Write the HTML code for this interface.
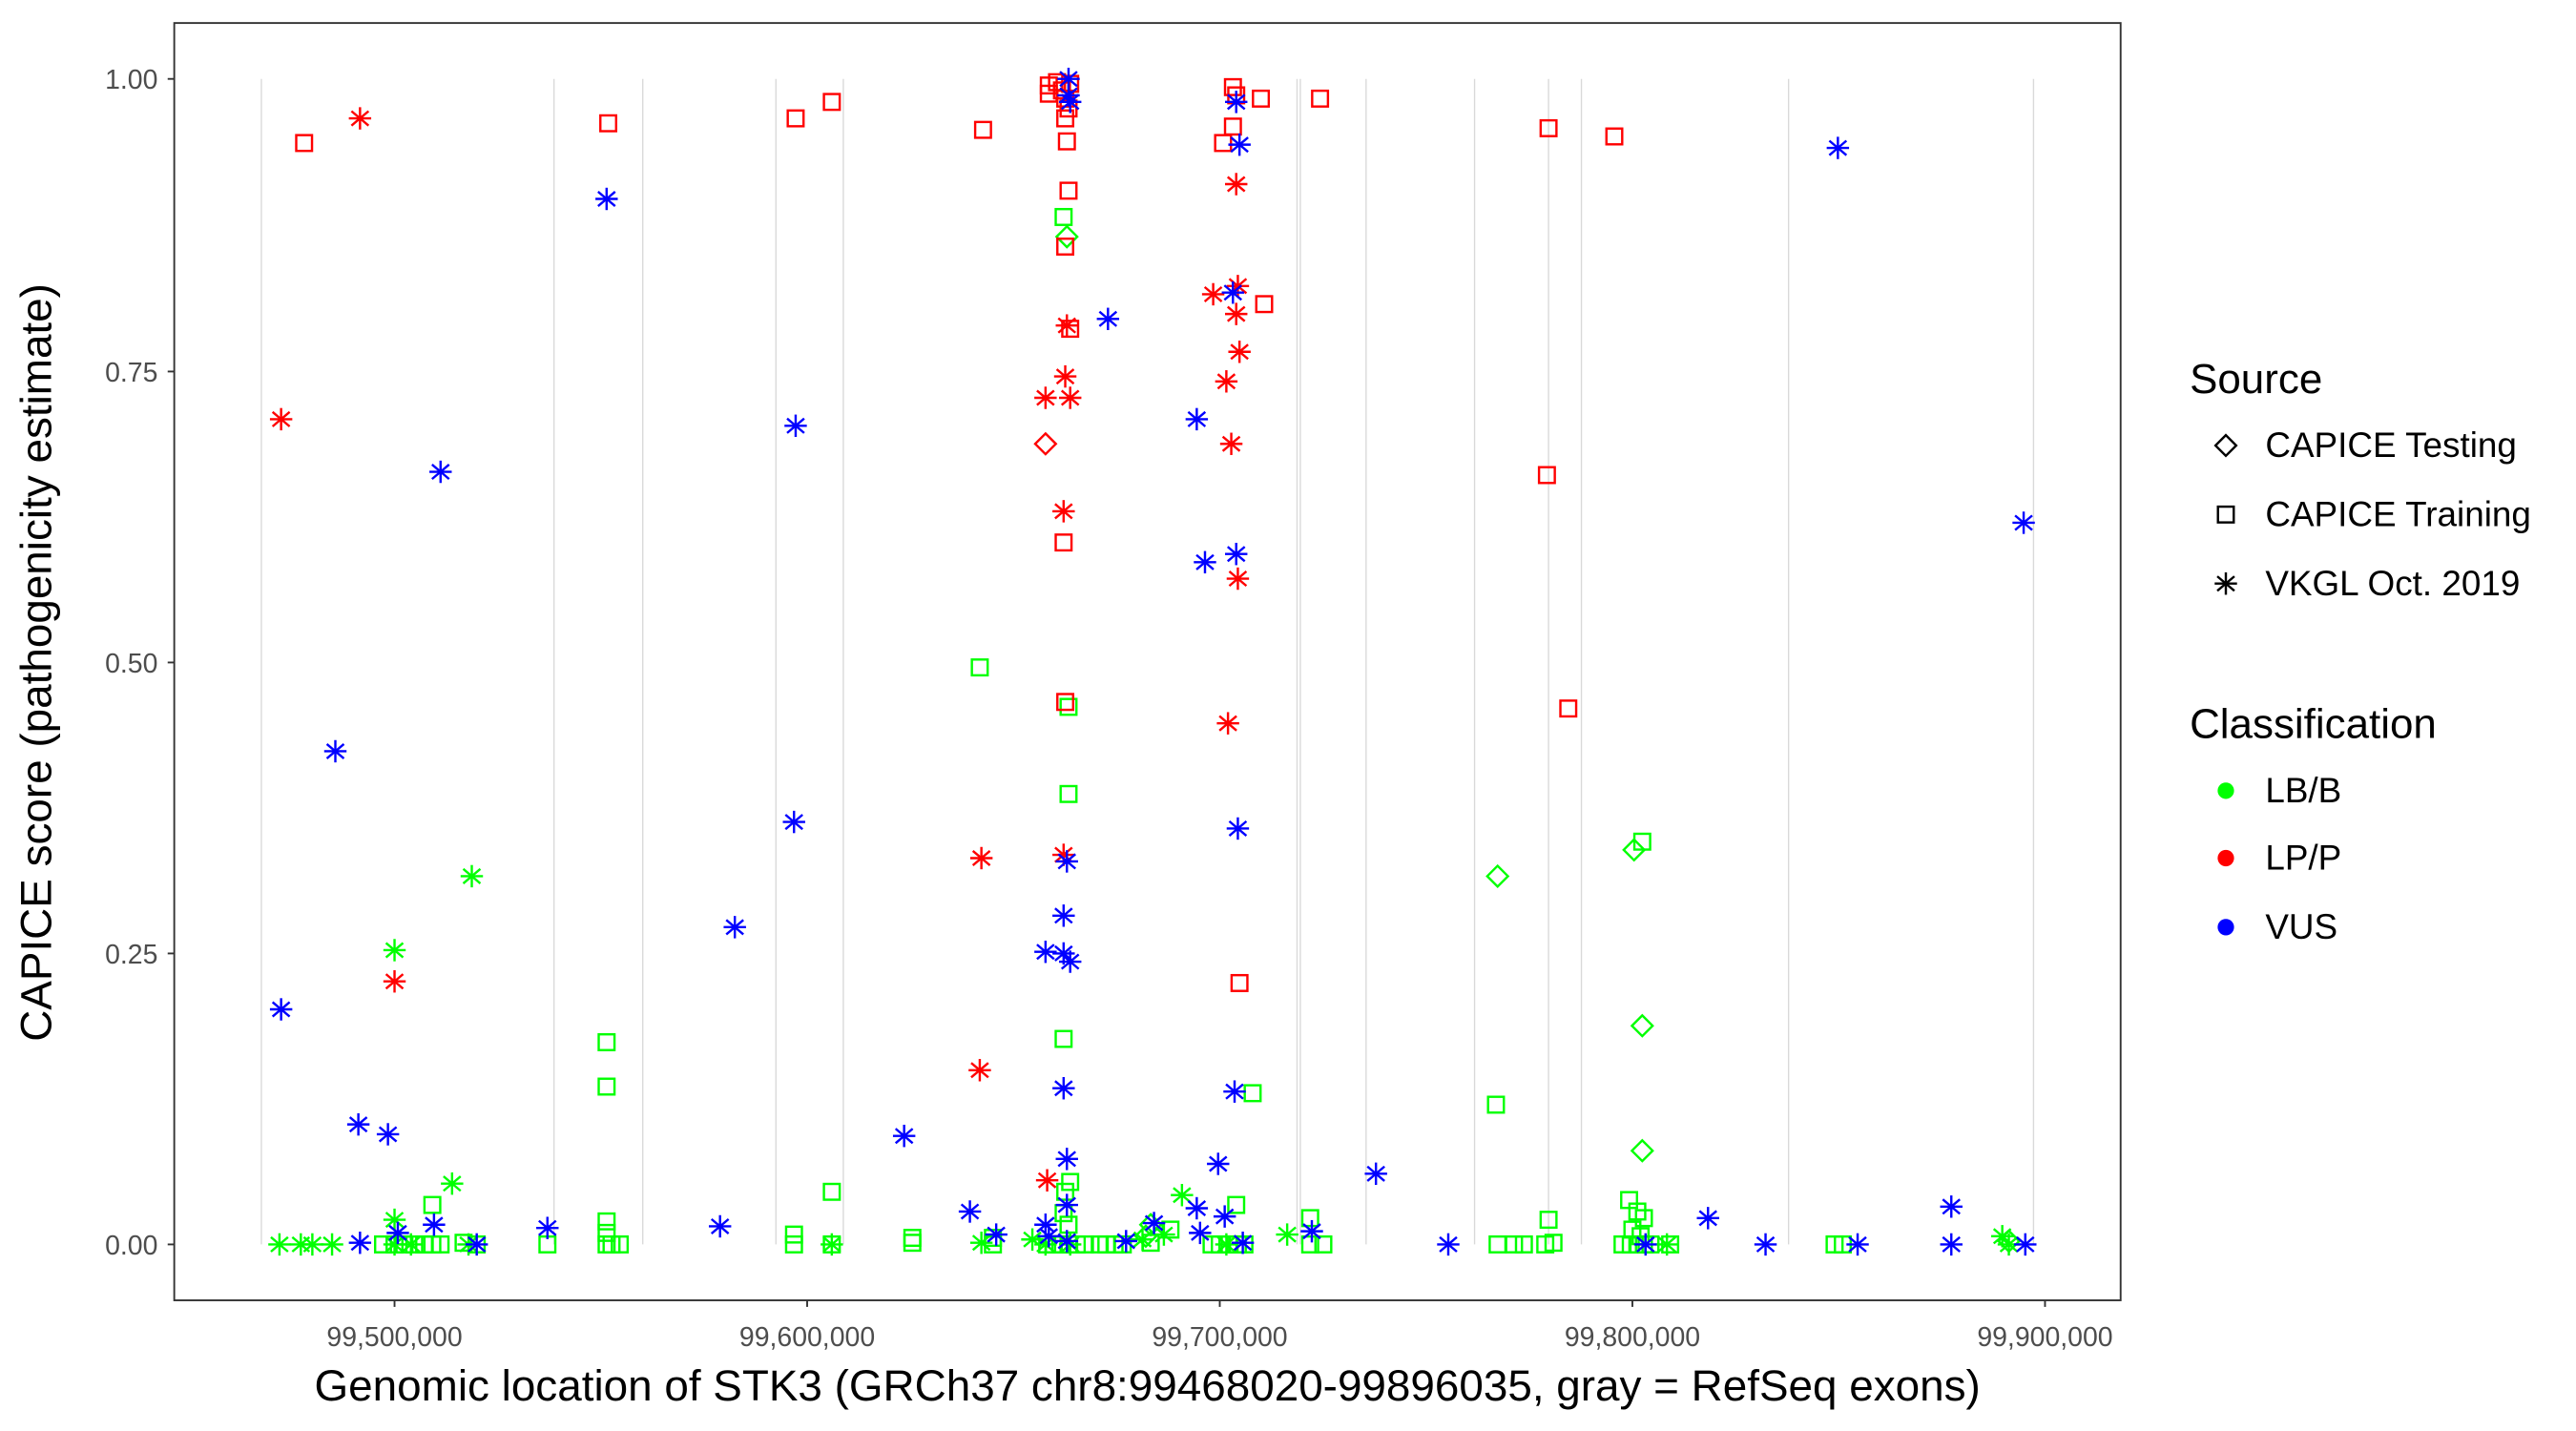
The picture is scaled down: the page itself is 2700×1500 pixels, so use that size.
<!DOCTYPE html>
<html><head><meta charset="utf-8"><style>
html,body{margin:0;padding:0;background:#fff;}
svg{display:block;}
text{font-family:"Liberation Sans",Arial,sans-serif;}
</style></head><body>
<svg width="2700" height="1500" viewBox="0 0 1567 870.5" preserveAspectRatio="none" xmlns="http://www.w3.org/2000/svg">
<defs>
<g id="sq"><rect x="-4.8" y="-4.8" width="9.6" height="9.6" fill="none" stroke-width="1.4"/></g>
<g id="di"><polygon points="0,-6.3 6.3,0 0,6.3 -6.3,0" fill="none" stroke-width="1.4"/></g>
<g id="as" stroke-width="1.4"><line x1="0" y1="-6.8" x2="0" y2="6.8"/><line x1="-6.8" y1="0" x2="6.8" y2="0"/><line x1="-5.2" y1="-4.4" x2="5.2" y2="4.4"/><line x1="-5.2" y1="4.4" x2="5.2" y2="-4.4"/></g>
</defs>
<rect x="0" y="0" width="1567" height="870.5" fill="#fff"/>
<g stroke="#d9d9d9" stroke-width="0.8">
<line x1="159" y1="48" x2="159" y2="757"/><line x1="337" y1="48" x2="337" y2="757"/><line x1="391" y1="48" x2="391" y2="757"/><line x1="472" y1="48" x2="472" y2="757"/><line x1="513" y1="48" x2="513" y2="757"/>
<line x1="789" y1="48" x2="789" y2="757"/><line x1="791" y1="48" x2="791" y2="757"/><line x1="831" y1="48" x2="831" y2="757"/><line x1="897" y1="48" x2="897" y2="757"/><line x1="942" y1="48" x2="942" y2="757"/><line x1="962" y1="48" x2="962" y2="757"/><line x1="1088" y1="48" x2="1088" y2="757"/><line x1="1237" y1="48" x2="1237" y2="757"/>
</g>
<g stroke="#00ff00">
<use href="#sq" x="596" y="406"/><use href="#sq" x="650" y="430"/><use href="#sq" x="650" y="483"/><use href="#sq" x="647" y="632"/><use href="#sq" x="369" y="634"/><use href="#sq" x="369" y="661"/><use href="#sq" x="762" y="665"/><use href="#sq" x="910" y="672"/><use href="#sq" x="506" y="725"/><use href="#sq" x="263" y="733"/><use href="#sq" x="369" y="743"/><use href="#sq" x="752" y="733"/><use href="#sq" x="797" y="741"/><use href="#sq" x="942" y="742"/><use href="#sq" x="991" y="730"/><use href="#sq" x="996" y="737"/><use href="#sq" x="1000" y="741"/><use href="#sq" x="999" y="512"/><use href="#sq" x="647" y="132"/>
<use href="#sq" x="647" y="738"/><use href="#sq" x="648" y="725"/><use href="#sq" x="651" y="719"/><use href="#sq" x="650" y="745"/><use href="#sq" x="369" y="750"/><use href="#sq" x="712" y="748"/><use href="#sq" x="993" y="748"/><use href="#sq" x="998" y="752"/><use href="#sq" x="604" y="753"/><use href="#sq" x="555" y="753"/><use href="#sq" x="483" y="751"/>
<use href="#sq" x="233" y="757"/><use href="#sq" x="240" y="757"/><use href="#sq" x="246" y="757"/><use href="#sq" x="252" y="757"/><use href="#sq" x="258" y="757"/><use href="#sq" x="263" y="757"/><use href="#sq" x="268" y="757"/><use href="#sq" x="282" y="756"/><use href="#sq" x="290" y="757"/><use href="#sq" x="333" y="757"/><use href="#sq" x="369" y="757"/><use href="#sq" x="372" y="757"/><use href="#sq" x="377" y="757"/><use href="#sq" x="483" y="757"/><use href="#sq" x="506" y="757"/><use href="#sq" x="555" y="756"/><use href="#sq" x="604" y="757"/><use href="#sq" x="637" y="757"/><use href="#sq" x="641" y="757"/><use href="#sq" x="645" y="757"/><use href="#sq" x="650" y="757"/><use href="#sq" x="655" y="757"/><use href="#sq" x="660" y="757"/><use href="#sq" x="669" y="757"/><use href="#sq" x="673" y="757"/><use href="#sq" x="678" y="757"/><use href="#sq" x="683" y="757"/><use href="#sq" x="700" y="756"/><use href="#sq" x="737" y="757"/><use href="#sq" x="742" y="757"/><use href="#sq" x="748" y="757"/><use href="#sq" x="753" y="757"/><use href="#sq" x="757" y="757"/><use href="#sq" x="797" y="757"/><use href="#sq" x="805" y="757"/><use href="#sq" x="911" y="757"/><use href="#sq" x="921" y="757"/><use href="#sq" x="927" y="757"/><use href="#sq" x="940" y="757"/><use href="#sq" x="945" y="756"/><use href="#sq" x="987" y="757"/><use href="#sq" x="992" y="757"/><use href="#sq" x="996" y="757"/><use href="#sq" x="1000" y="757"/><use href="#sq" x="1004" y="757"/><use href="#sq" x="1016" y="757"/><use href="#sq" x="1116" y="757"/><use href="#sq" x="1121" y="757"/>
<use href="#di" x="911" y="533"/><use href="#di" x="994" y="517"/><use href="#di" x="999" y="624"/><use href="#di" x="999" y="700"/><use href="#di" x="649" y="144"/><use href="#di" x="1222" y="755"/><use href="#di" x="697" y="752"/><use href="#di" x="700" y="745"/>
<use href="#as" x="240" y="578"/><use href="#as" x="287" y="533"/><use href="#as" x="275" y="720"/><use href="#as" x="719" y="727"/><use href="#as" x="783" y="751"/><use href="#as" x="240" y="742"/><use href="#as" x="1218" y="752"/><use href="#as" x="170" y="757"/><use href="#as" x="183" y="757"/><use href="#as" x="190" y="757"/><use href="#as" x="202" y="757"/><use href="#as" x="240" y="757"/><use href="#as" x="250" y="757"/><use href="#as" x="285" y="757"/><use href="#as" x="506" y="757"/><use href="#as" x="597" y="756"/><use href="#as" x="628" y="754"/><use href="#as" x="636" y="757"/><use href="#as" x="651" y="757"/><use href="#as" x="695" y="754"/><use href="#as" x="708" y="751"/><use href="#as" x="746" y="757"/><use href="#as" x="1014" y="757"/><use href="#as" x="1222" y="757"/>
</g>
<g stroke="#ff0000">
<use href="#sq" x="185" y="87"/><use href="#sq" x="370" y="75"/><use href="#sq" x="484" y="72"/><use href="#sq" x="506" y="62"/><use href="#sq" x="598" y="79"/>
<use href="#sq" x="638" y="52"/><use href="#sq" x="638" y="57"/><use href="#sq" x="643" y="50"/><use href="#sq" x="646" y="55"/><use href="#sq" x="648" y="60"/><use href="#sq" x="651" y="51"/><use href="#sq" x="650" y="66"/><use href="#sq" x="648" y="72"/><use href="#sq" x="649" y="86"/><use href="#sq" x="650" y="116"/><use href="#sq" x="648" y="150"/><use href="#sq" x="651" y="200"/><use href="#sq" x="647" y="330"/><use href="#sq" x="648" y="427"/>
<use href="#sq" x="750" y="53"/><use href="#sq" x="752" y="58"/><use href="#sq" x="750" y="77"/><use href="#sq" x="744" y="87"/><use href="#sq" x="767" y="60"/><use href="#sq" x="769" y="185"/><use href="#sq" x="803" y="60"/><use href="#sq" x="942" y="78"/><use href="#sq" x="982" y="83"/><use href="#sq" x="941" y="289"/><use href="#sq" x="954" y="431"/><use href="#sq" x="754" y="598"/>
<use href="#di" x="636" y="270"/>
<use href="#as" x="219" y="72"/><use href="#as" x="171" y="255"/><use href="#as" x="240" y="597"/><use href="#as" x="597" y="522"/><use href="#as" x="596" y="651"/><use href="#as" x="636" y="242"/><use href="#as" x="649" y="198"/><use href="#as" x="648" y="229"/><use href="#as" x="651" y="242"/><use href="#as" x="647" y="311"/><use href="#as" x="647" y="520"/><use href="#as" x="637" y="718"/><use href="#as" x="738" y="179"/><use href="#as" x="753" y="174"/><use href="#as" x="752" y="191"/><use href="#as" x="746" y="232"/><use href="#as" x="754" y="214"/><use href="#as" x="749" y="270"/><use href="#as" x="752" y="112"/><use href="#as" x="753" y="352"/><use href="#as" x="747" y="440"/>
</g>
<g stroke="#0000ff">
<use href="#as" x="1118" y="90"/><use href="#as" x="1231" y="318"/><use href="#as" x="268" y="287"/><use href="#as" x="484" y="259"/><use href="#as" x="204" y="457"/><use href="#as" x="483" y="500"/><use href="#as" x="447" y="564"/><use href="#as" x="171" y="614"/><use href="#as" x="218" y="684"/><use href="#as" x="236" y="690"/><use href="#as" x="550" y="691"/><use href="#as" x="369" y="121"/>
<use href="#as" x="650" y="48"/><use href="#as" x="650" y="58"/><use href="#as" x="651" y="62"/><use href="#as" x="752" y="62"/><use href="#as" x="754" y="88"/><use href="#as" x="674" y="194"/><use href="#as" x="750" y="178"/><use href="#as" x="728" y="255"/><use href="#as" x="733" y="342"/><use href="#as" x="752" y="337"/><use href="#as" x="753" y="504"/><use href="#as" x="649" y="524"/><use href="#as" x="647" y="557"/><use href="#as" x="636" y="579"/><use href="#as" x="647" y="580"/><use href="#as" x="651" y="585"/><use href="#as" x="647" y="662"/><use href="#as" x="751" y="664"/><use href="#as" x="649" y="705"/><use href="#as" x="741" y="708"/><use href="#as" x="837" y="714"/><use href="#as" x="590" y="737"/><use href="#as" x="636" y="745"/><use href="#as" x="649" y="733"/><use href="#as" x="728" y="735"/><use href="#as" x="745" y="740"/><use href="#as" x="1187" y="734"/><use href="#as" x="1039" y="741"/><use href="#as" x="798" y="749"/><use href="#as" x="333" y="747"/><use href="#as" x="438" y="746"/><use href="#as" x="264" y="745"/><use href="#as" x="242" y="750"/><use href="#as" x="219" y="756"/><use href="#as" x="290" y="757"/><use href="#as" x="606" y="751"/><use href="#as" x="685" y="755"/><use href="#as" x="730" y="750"/><use href="#as" x="756" y="756"/><use href="#as" x="881" y="757"/><use href="#as" x="1001" y="757"/><use href="#as" x="1074" y="757"/><use href="#as" x="1130" y="757"/><use href="#as" x="1187" y="757"/><use href="#as" x="1232" y="757"/><use href="#as" x="649" y="755"/><use href="#as" x="638" y="752"/><use href="#as" x="702" y="744"/>
</g>
<rect x="106" y="14" width="1184" height="777" fill="none" stroke="#333" stroke-width="1.1"/>
<g stroke="#333" stroke-width="1.1">
<line x1="102" y1="48" x2="106" y2="48"/><line x1="102" y1="226" x2="106" y2="226"/><line x1="102" y1="403" x2="106" y2="403"/><line x1="102" y1="580" x2="106" y2="580"/><line x1="102" y1="757" x2="106" y2="757"/>
<line x1="240" y1="791" x2="240" y2="795"/><line x1="491" y1="791" x2="491" y2="795"/><line x1="742" y1="791" x2="742" y2="795"/><line x1="993" y1="791" x2="993" y2="795"/><line x1="1244" y1="791" x2="1244" y2="795"/>
</g>
<g fill="#4d4d4d" font-size="16.5" text-anchor="end">
<text x="96" y="54">1.00</text><text x="96" y="232">0.75</text><text x="96" y="409">0.50</text><text x="96" y="586">0.25</text><text x="96" y="763">0.00</text>
</g>
<g fill="#4d4d4d" font-size="16.5" text-anchor="middle">
<text x="240" y="819">99,500,000</text><text x="491" y="819">99,600,000</text><text x="742" y="819">99,700,000</text><text x="993" y="819">99,800,000</text><text x="1244" y="819">99,900,000</text>
</g>
<text x="698" y="852" font-size="26.6" text-anchor="middle" fill="#000">Genomic location of STK3 (GRCh37 chr8:99468020-99896035, gray = RefSeq exons)</text>
<text transform="translate(31,403) rotate(-90)" font-size="26.6" text-anchor="middle" fill="#000">CAPICE score (pathogenicity estimate)</text>
<text x="1332" y="239" font-size="25.5" fill="#000">Source</text>
<g stroke="#000"><use href="#di" x="1354" y="271"/><use href="#sq" x="1354" y="313"/><use href="#as" x="1354" y="355"/></g>
<g font-size="21.4" fill="#000"><text x="1378" y="278">CAPICE Testing</text><text x="1378" y="320">CAPICE Training</text><text x="1378" y="362">VKGL Oct. 2019</text></g>
<text x="1332" y="449" font-size="25.5" fill="#000">Classification</text>
<circle cx="1354" cy="481" r="5" fill="#00ff00"/><circle cx="1354" cy="522" r="5" fill="#ff0000"/><circle cx="1354" cy="564" r="5" fill="#0000ff"/>
<g font-size="21.4" fill="#000"><text x="1378" y="488">LB/B</text><text x="1378" y="529">LP/P</text><text x="1378" y="571">VUS</text></g>
</svg>
</body></html>
